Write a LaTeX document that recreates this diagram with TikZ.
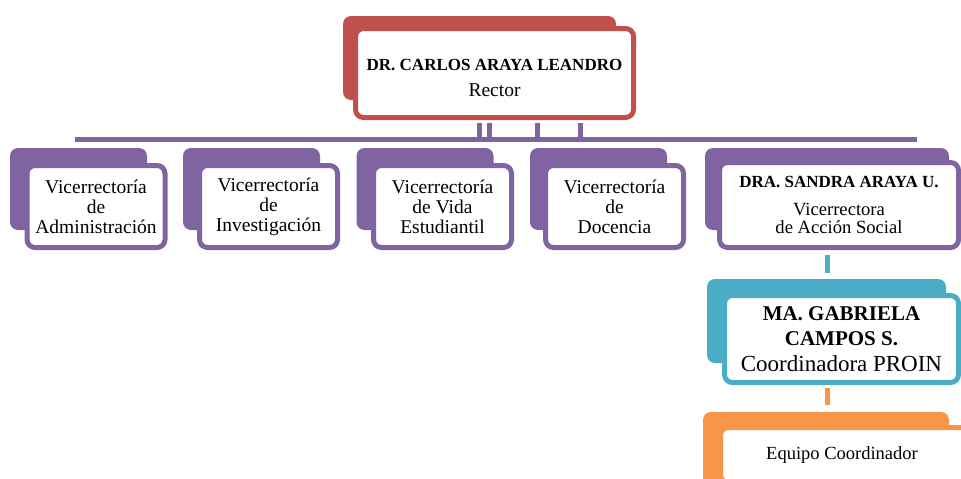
\documentclass[tikz,border=0pt]{standalone}
\usepackage{fontspec}
\setmainfont{Liberation Serif}
\definecolor{cred}{HTML}{C0504D}
\definecolor{cpurple}{HTML}{8064A2}
\definecolor{cteal}{HTML}{4BACC6}
\definecolor{corange}{HTML}{F79646}
\begin{document}
\begin{tikzpicture}[x=1pt,y=-1pt,
  backbox/.style={fill=#1, rounded corners=8pt, inner sep=0pt},
  frontbox/.style={draw=#1, line width=5pt, fill=white, rounded corners=8pt, inner sep=0pt, align=center},
  conn/.style={draw=#1, line width=5pt},
  childtxt/.style={font=\fontsize{19.5}{20}\selectfont},
  childback/.style={backbox=cpurple, minimum width=137pt, minimum height=82pt},
  childfront/.style={frontbox=cpurple, childtxt, minimum width=138pt, minimum height=82pt}]
\useasboundingbox (0,0) rectangle (961,479);
\clip (0,0) rectangle (961,479);

% Rector
\node[backbox=cred, minimum width=273pt, minimum height=84pt] (rback) at (479.5,58) {};
\node[frontbox=cred, minimum width=278pt, minimum height=89pt, font=\fontsize{19.5}{20}\selectfont] (rector) at (494.5,73)
  {{\fontsize{17}{20}\selectfont\bfseries\rule{0pt}{21pt}DR. CARLOS ARAYA LEANDRO}\\[6pt]Rector};

% Vicerrectorias
\node[childback] (b1) at (78.5,189) {};
\node[childfront] (v1) at (96,206.5) {Vicerrectoría\\de\\Administración};
\node[childback] (b2) at (251.5,189) {};
\node[childfront] (v2) at (268.5,206.5) {Vicerrectoría\\de\\Investigación};
\node[childback] (b3) at (425,189) {};
\node[childfront] (v3) at (442.5,206.5) {Vicerrectoría\\de Vida\\Estudiantil};
\node[childback] (b4) at (598.5,189) {};
\node[childfront] (v4) at (614.5,206.5) {Vicerrectoría\\de\\Docencia};
\node[backbox=cpurple, minimum width=244pt, minimum height=82pt] (b5) at (827,189) {};
\node[frontbox=cpurple, minimum width=239pt, minimum height=85pt, font=\fontsize{18.6}{18}\selectfont] (dra) at (839,205)
  {{\fontsize{17}{18}\selectfont\bfseries DRA. SANDRA ARAYA U.}\\[10pt]Vicerrectora\\de Acción Social};

% Coordinadora
\node[backbox=cteal, minimum width=239pt, minimum height=84pt] (gback) at (826.5,321) {};
\node[frontbox=cteal, minimum width=234pt, minimum height=87pt, font=\fontsize{23}{25}\selectfont] (gab) at (841.5,339)
  {{\fontsize{21}{25}\selectfont\bfseries MA. GABRIELA}\\{\fontsize{21}{25}\selectfont\bfseries CAMPOS S.}\\[1pt]Coordinadora PROIN};

% Equipo
\node[backbox=corange, minimum width=246pt, minimum height=108pt] (eback) at (826,466) {};
\node[frontbox=corange, minimum width=252pt, minimum height=55pt, font=\fontsize{18.5}{20}\selectfont] (equipo) at (846.5,455)
  {\hspace*{-9pt}Equipo Coordinador};

% Connectors
\coordinate (barL) at (75,139.5);
\coordinate (barR) at (917,139.5);
\coordinate (d1) at (479.5,139.5);
\coordinate (d2) at (489.5,139.5);
\coordinate (d3) at (537.5,139.5);
\coordinate (d4) at (580.5,139.5);
\coordinate (tx) at (827,0);
\draw[conn=cpurple] (barL) -- (barR);
\foreach \d in {d1,d2,d3,d4}
  \draw[conn=cpurple, shorten <=2.5pt] (rector.south -| \d) -- (\d);
\draw[conn=cteal, shorten <=4.5pt, shorten >=6pt] (dra.south -| tx) -- (gback.north -| tx);
\draw[conn=corange, shorten <=2.5pt, shorten >=7pt] (gab.south -| tx) -- (eback.north -| tx);
\end{tikzpicture}
\end{document}
